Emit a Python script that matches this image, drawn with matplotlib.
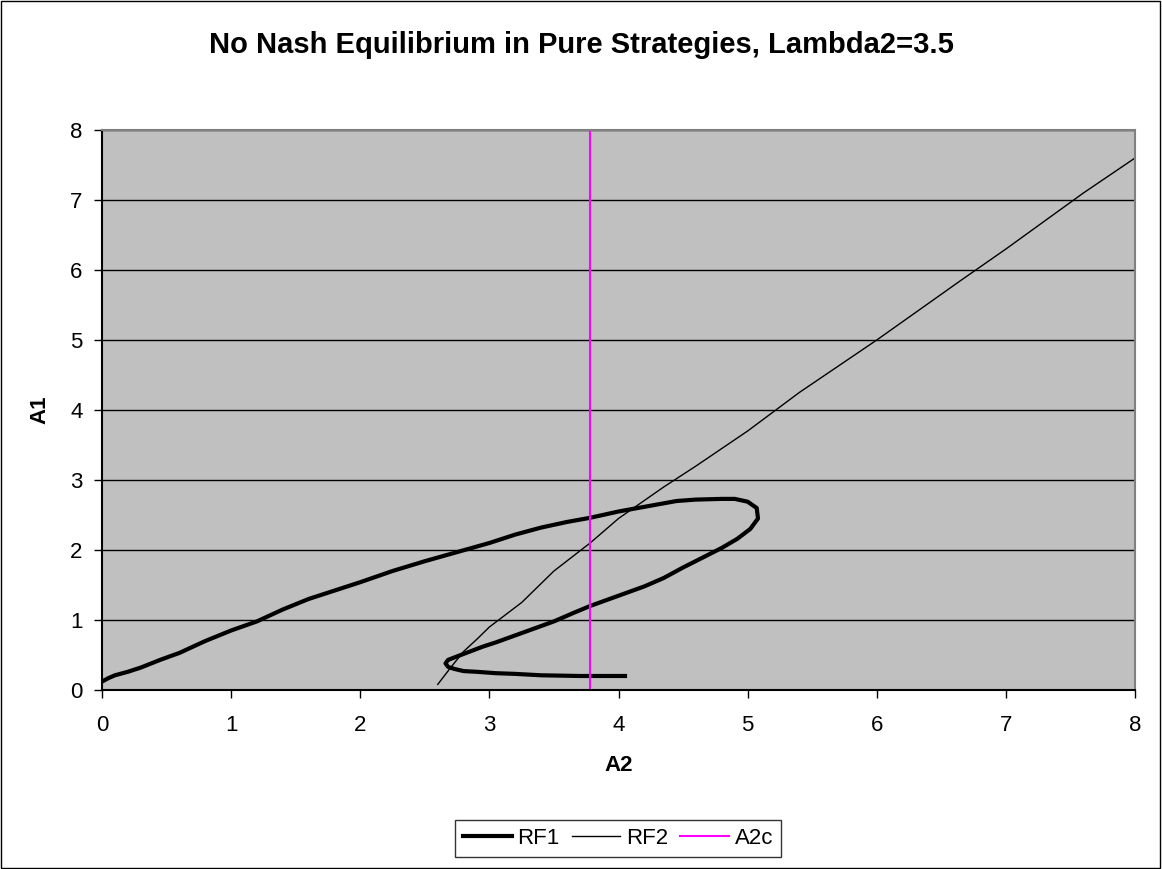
import matplotlib
matplotlib.use('Agg')
import matplotlib.pyplot as plt
from matplotlib.patches import Rectangle

# RF1 response curve (A2, A1)
rf1_x = [4.05, 3.7, 3.4, 3.2, 3.05, 2.9, 2.8, 2.73, 2.68, 2.66, 2.68, 2.75, 2.85, 2.95,
         3.05, 3.2, 3.35, 3.5, 3.65, 3.78, 3.9, 4.05, 4.2, 4.35, 4.5, 4.65, 4.8, 4.92,
         5.02, 5.08, 5.07, 5.0, 4.9, 4.8, 4.6, 4.45, 4.3, 4.15, 4.0, 3.78, 3.6, 3.4,
         3.2, 3.0, 2.75, 2.5, 2.25, 2.0, 1.8, 1.6, 1.4, 1.2, 1.0, 0.8, 0.6, 0.45, 0.3,
         0.2, 0.1, 0.05, 0.0]
rf1_y = [0.2, 0.2, 0.21, 0.23, 0.24, 0.26, 0.27, 0.3, 0.33, 0.38, 0.43, 0.48, 0.55, 0.62,
         0.68, 0.78, 0.88, 0.98, 1.1, 1.2, 1.28, 1.38, 1.48, 1.6, 1.75, 1.89, 2.03, 2.16,
         2.3, 2.45, 2.6, 2.69, 2.73, 2.73, 2.72, 2.7, 2.65, 2.6, 2.55, 2.46, 2.4, 2.32,
         2.22, 2.1, 1.97, 1.84, 1.7, 1.54, 1.42, 1.3, 1.15, 0.98, 0.85, 0.7, 0.53, 0.43, 0.32,
         0.26, 0.21, 0.17, 0.12]

# RF2 response curve
rf2_x = [2.6, 2.65, 2.7, 2.8, 2.9, 3.0, 3.25, 3.5, 3.78, 4.0, 4.35, 4.6, 5.0, 5.4, 6.0,
         6.65, 7.0, 7.6, 8.0]
rf2_y = [0.08, 0.2, 0.32, 0.55, 0.72, 0.9, 1.25, 1.7, 2.1, 2.45, 2.9, 3.2, 3.7, 4.25, 5.0,
         5.85, 6.3, 7.1, 7.6]

# A2c critical value
a2c = 3.78

fontname = 'Liberation Sans'

fig = plt.figure(figsize=(11.62, 8.69), dpi=100)
fig.patches.append(Rectangle((0.0005, 0.0008), 0.998, 0.998, transform=fig.transFigure,
                             fill=False, edgecolor='black', linewidth=1))
ax = fig.add_axes([0.0878, 0.206, 0.889, 0.6444])
ax.set_facecolor('#C0C0C0')

ax.plot(rf1_x, rf1_y, color='black', lw=3, label='RF1', solid_joinstyle='round')
ax.plot(rf2_x, rf2_y, color='black', lw=1, label='RF2')
ax.plot([a2c, a2c], [0, 8], color='#FF00FF', lw=1.5, label='A2c')

ax.set_xlim(0, 8)
ax.set_ylim(0, 8)
ax.set_xticks(range(9))
ax.set_yticks(range(9))
ax.yaxis.grid(True, color='black', lw=1)
ax.set_axisbelow(True)
for s in ax.spines.values():
    s.set_color('#808080')
    s.set_linewidth(1.5)
ax.spines['left'].set_color('black')
ax.spines['bottom'].set_color('black')
ax.tick_params(labelsize=16, length=6, width=1, direction='out')
ax.tick_params(axis='x', pad=12)
ax.tick_params(axis='y', pad=8)

for lbl in ax.get_xticklabels() + ax.get_yticklabels():
    lbl.set_fontname(fontname)

ax.set_xlabel('A2', fontsize=16, fontweight='bold', fontname=fontname, labelpad=14)
ax.set_ylabel('A1', fontsize=16, fontweight='bold', fontname=fontname, labelpad=14)
fig.text(0.5, 1 - 45 / 869, 'No Nash Equilibrium in Pure Strategies, Lambda2=3.5',
         ha='center', va='center', fontsize=21, fontweight='bold', fontname=fontname)

leg = fig.legend(loc='center', bbox_to_anchor=(618 / 1162, 1 - 838.5 / 869), ncol=3,
                 frameon=True, fancybox=False, edgecolor='black',
                 prop={'family': fontname, 'size': 16},
                 handlelength=2.2, handletextpad=0.25, columnspacing=0.55,
                 borderpad=0.35, borderaxespad=0)
leg.get_frame().set_linewidth(1)

fig.savefig('out.png', dpi=100)
